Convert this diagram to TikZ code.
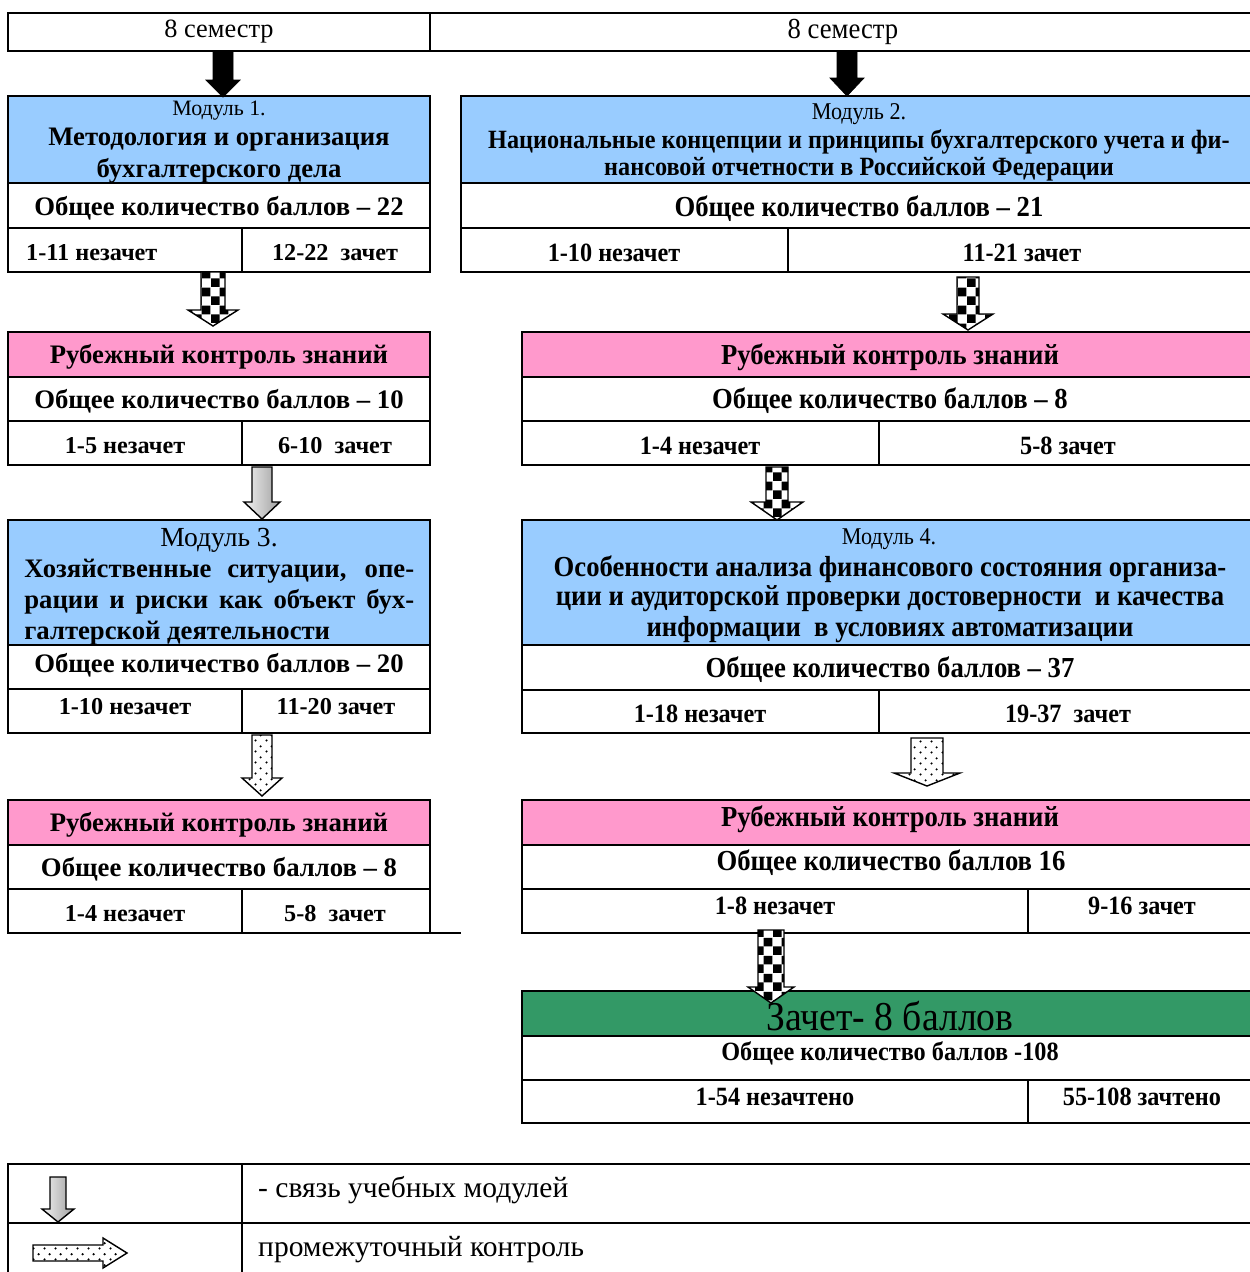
\documentclass[tikz,border=0pt]{standalone}
\usepackage{fontspec}
\setmainfont{Liberation Serif}
\newfontfamily\narrowfont[FakeStretch=0.92]{Liberation Serif}
\usetikzlibrary{patterns.meta}

% fill patterns for the block arrows
\tikzdeclarepattern{
  name=checks, type=uncolored,
  bottom left={(0pt,0pt)}, top right={(10pt,10pt)}, tile size={(10pt,10pt)},
  code={\fill (0pt,0pt) rectangle (5pt,5pt); \fill (5pt,5pt) rectangle (10pt,10pt);}}
\tikzdeclarepattern{
  name=sparsedots, type=uncolored,
  bottom left={(0pt,0pt)}, top right={(6pt,6pt)}, tile size={(6pt,6pt)},
  code={\fill (1.5pt,1.5pt) circle (0.7pt); \fill (4.5pt,4.5pt) circle (0.7pt);}}

% block arrow pointing down: style, x, top, head, tip, half shaft, half head
\newcommand\downarr[7]{%
  \path[#1] (#2-#6,#3) -- (#2+#6,#3) -- (#2+#6,#4) -- (#2+#7,#4) -- (#2,#5)
    -- (#2-#7,#4) -- (#2-#6,#4) -- cycle;}
% block arrow pointing right: style, y, left, head, tip, half shaft, half head
\newcommand\rightarr[7]{%
  \path[#1] (#3,#2-#6) -- (#4,#2-#6) -- (#4,#2-#7) -- (#5,#2) -- (#4,#2+#7)
    -- (#4,#2+#6) -- (#3,#2+#6) -- cycle;}

\definecolor{modblue}{HTML}{99CCFF}
\definecolor{ctrlpink}{HTML}{FF99CC}
\definecolor{examgreen}{HTML}{339966}

\begin{document}
\begin{tikzpicture}[x=0.02cm,y=-0.02cm,
    every node/.style={yshift=-1.1pt},
    frame/.style={draw,line width=1.1pt},
    blackarr/.style={fill=black,draw=black},
    checkarr/.style={draw=black,line width=0.8pt,preaction={fill=white},pattern=checks},
    grayarr/.style={draw=black,line width=0.8pt,left color=gray!10,right color=gray!75},
    dotarr/.style={draw=black,line width=0.8pt,preaction={fill=white},pattern=sparsedots},
    plain/.style={font=\fontsize{15}{17}\selectfont},
    legend/.style={font=\fontsize{16.8}{19}\selectfont},
    small/.style={font=\fontsize{12.5}{14}\selectfont},
    lbold/.style={font=\bfseries\fontsize{15.2}{17}\selectfont},
    llab/.style={font=\bfseries\fontsize{13.8}{16}\selectfont},
    rbold/.style={font=\narrowfont\bfseries\fontsize{16.5}{18}\selectfont},
    rtitle/.style={font=\narrowfont\bfseries\fontsize{15}{17}\selectfont},
    rlab/.style={font=\narrowfont\bfseries\fontsize{15}{17}\selectfont},
    rsmall/.style={font=\narrowfont\fontsize{13.7}{15}\selectfont}]

\useasboundingbox (0,0) rectangle (1249,1272);

% semester row
\draw[frame] (8,13) rectangle (1260,51);
\draw[frame] (430,13) -- (430,51);
\node[plain] (sem1) at (219,30) {8 семестр};
\node[font=\narrowfont\fontsize{16.5}{18}\selectfont] (sem2) at (843,30) {8 семестр};

% ---------- left column ----------
% module 1
\fill[modblue] (8,96) rectangle (430,183);
\draw[frame] (8,96) rectangle (430,272);
\draw[frame] (8,183) -- (430,183) (8,228) -- (430,228) (242,228) -- (242,272);
\node[small] (m1) at (219,109) {Модуль 1.};
\node[lbold] (m1a) at (219,138) {Методология и организация};
\node[lbold] (m1b) at (219,169) {бухгалтерского дела};
\node[lbold] (m1sum) at (219,206) {Общее количество баллов – 22};
\node[llab,anchor=west] (m1no) at (20,251) {1-11 незачет};
\node[llab] (m1yes) at (335,251) {12-22~ зачет};

% control 1
\fill[ctrlpink] (8,332) rectangle (430,377);
\draw[frame] (8,332) rectangle (430,465);
\draw[frame] (8,377) -- (430,377) (8,421) -- (430,421) (242,421) -- (242,465);
\node[lbold] (k1) at (219,355) {Рубежный контроль знаний};
\node[lbold] (k1sum) at (219,399) {Общее количество баллов – 10};
\node[llab] (k1no) at (125,444) {1-5 незачет};
\node[llab] (k1yes) at (335,444) {6-10~ зачет};

% module 3
\fill[modblue] (8,520) rectangle (430,645);
\draw[frame] (8,520) rectangle (430,733);
\draw[frame] (8,645) -- (430,645) (8,689) -- (430,689) (242,689) -- (242,733);
\node[font=\fontsize{15.7}{18}\selectfont] (m3) at (219,538) {Модуль 3.};
\node[lbold,anchor=west,inner xsep=0pt] (m3a) at (24,569) {\makebox[7.8cm][s]{Хозяйственные ситуации, опе-}};
\node[lbold,anchor=west,inner xsep=0pt] (m3b) at (24,600) {\makebox[7.8cm][s]{рации и риски как объект бух-}};
\node[lbold,anchor=west,inner xsep=0pt] (m3c) at (24,631) {галтерской деятельности};
\node[lbold] (m3sum) at (219,663) {Общее количество баллов – 20};
\node[llab] (m3no) at (125,705) {1-10 незачет};
\node[llab] (m3yes) at (336,705) {11-20 зачет};

% control 3
\fill[ctrlpink] (8,800) rectangle (430,845);
\draw[frame] (8,800) rectangle (430,933);
\draw[frame] (430,933) -- (461,933);
\draw[frame] (8,845) -- (430,845) (8,889) -- (430,889) (242,889) -- (242,933);
\node[lbold] (k3) at (219,823) {Рубежный контроль знаний};
\node[lbold] (k3sum) at (219,867) {Общее количество баллов – 8};
\node[llab] (k3no) at (125,912) {1-4 незачет};
\node[llab] (k3yes) at (335,912) {5-8~ зачет};

% ---------- right column ----------
% module 2
\fill[modblue] (461,96) rectangle (1260,183);
\draw[frame] (461,96) rectangle (1260,272);
\draw[frame] (461,183) -- (1260,183) (461,228) -- (1260,228) (788,228) -- (788,272);
\node[rsmall] (m2) at (859,112) {Модуль 2.};
\node[rtitle] (m2a) at (859,140) {Национальные концепции и принципы бухгалтерского учета и фи-};
\node[rtitle] (m2b) at (859,167) {нансовой отчетности в Российской Федерации};
\node[rbold] (m2sum) at (859,207) {Общее количество баллов – 21};
\node[rlab] (m2no) at (614,251) {1-10 незачет};
\node[rlab] (m2yes) at (1022,251) {11-21 зачет};

% control 2
\fill[ctrlpink] (522,332) rectangle (1260,377);
\draw[frame] (522,332) rectangle (1260,465);
\draw[frame] (522,377) -- (1260,377) (522,421) -- (1260,421) (879,421) -- (879,465);
\node[rbold] (k2) at (890,355) {Рубежный контроль знаний};
\node[rbold] (k2sum) at (890,399) {Общее количество баллов – 8};
\node[rlab] (k2no) at (700,444) {1-4 незачет};
\node[rlab] (k2yes) at (1068,444) {5-8 зачет};

% module 4
\fill[modblue] (522,520) rectangle (1260,645);
\draw[frame] (522,520) rectangle (1260,733);
\draw[frame] (522,645) -- (1260,645) (522,690) -- (1260,690) (879,690) -- (879,733);
\node[rsmall] (m4) at (889,537) {Модуль 4.};
\node[rbold] (m4a) at (890,567) {Особенности анализа финансового состояния организа-};
\node[rbold] (m4b) at (890,597) {ции и аудиторской проверки достоверности~ и качества};
\node[rbold] (m4c) at (890,628) {информации~ в условиях автоматизации};
\node[rbold] (m4sum) at (890,668) {Общее количество баллов – 37};
\node[rlab] (m4no) at (700,712) {1-18 незачет};
\node[rlab] (m4yes) at (1068,712) {19-37~ зачет};

% control 4
\fill[ctrlpink] (522,800) rectangle (1260,845);
\draw[frame] (522,800) rectangle (1260,933);
\draw[frame] (522,845) -- (1260,845) (522,889) -- (1260,889) (1028,889) -- (1028,933);
\node[rbold] (k4) at (890,817) {Рубежный контроль знаний};
\node[rbold] (k4sum) at (891,861) {Общее количество баллов 16};
\node[rlab] (k4no) at (775,904) {1-8 незачет};
\node[rlab] (k4yes) at (1142,904) {9-16 зачет};

% final credit
\fill[examgreen] (522,991) rectangle (1260,1036);
\draw[frame] (522,991) rectangle (1260,1123);
\draw[frame] (522,1036) -- (1260,1036) (522,1080) -- (1260,1080) (1028,1080) -- (1028,1123);
\node[font=\narrowfont\fontsize{23.3}{25}\selectfont] (exam) at (890,1014) {Зачет- 8 баллов};
\node[rlab] (examsum) at (890,1051) {Общее количество баллов -108};
\node[rlab] (examno) at (775,1095) {1-54 незачтено};
\node[rlab] (examyes) at (1142,1095) {55-108 зачтено};

% ---------- block arrows ----------
\downarr{blackarr}{223}{51}{80}{97}{10}{17}
\downarr{blackarr}{847}{51}{78}{96}{10}{17}
\downarr{checkarr}{213}{272}{310}{326}{12}{25}
\downarr{checkarr}{968}{277}{314}{330}{11}{25}
\downarr{grayarr}{262}{467}{502}{519}{10}{18}
\downarr{checkarr}{777}{467}{502}{520}{11}{26}
\downarr{dotarr}{262}{735}{778}{796}{10}{20}
\downarr{dotarr}{927}{738}{773}{786}{16}{33}
\downarr{checkarr}{771}{930}{987}{1003}{13}{23}

% ---------- legend ----------
\draw[frame] (8,1164) rectangle (1260,1290);
\draw[frame] (8,1223) -- (1260,1223) (242,1164) -- (242,1290);
\downarr{grayarr}{58}{1177}{1209}{1222}{8}{16}
\rightarr{dotarr}{1253}{33}{103}{127}{8}{15}
\node[legend,anchor=west] (leg1) at (252,1188) {- связь учебных модулей};
\node[legend,anchor=west] (leg2) at (252,1248) {промежуточный контроль};

\end{tikzpicture}
\end{document}
